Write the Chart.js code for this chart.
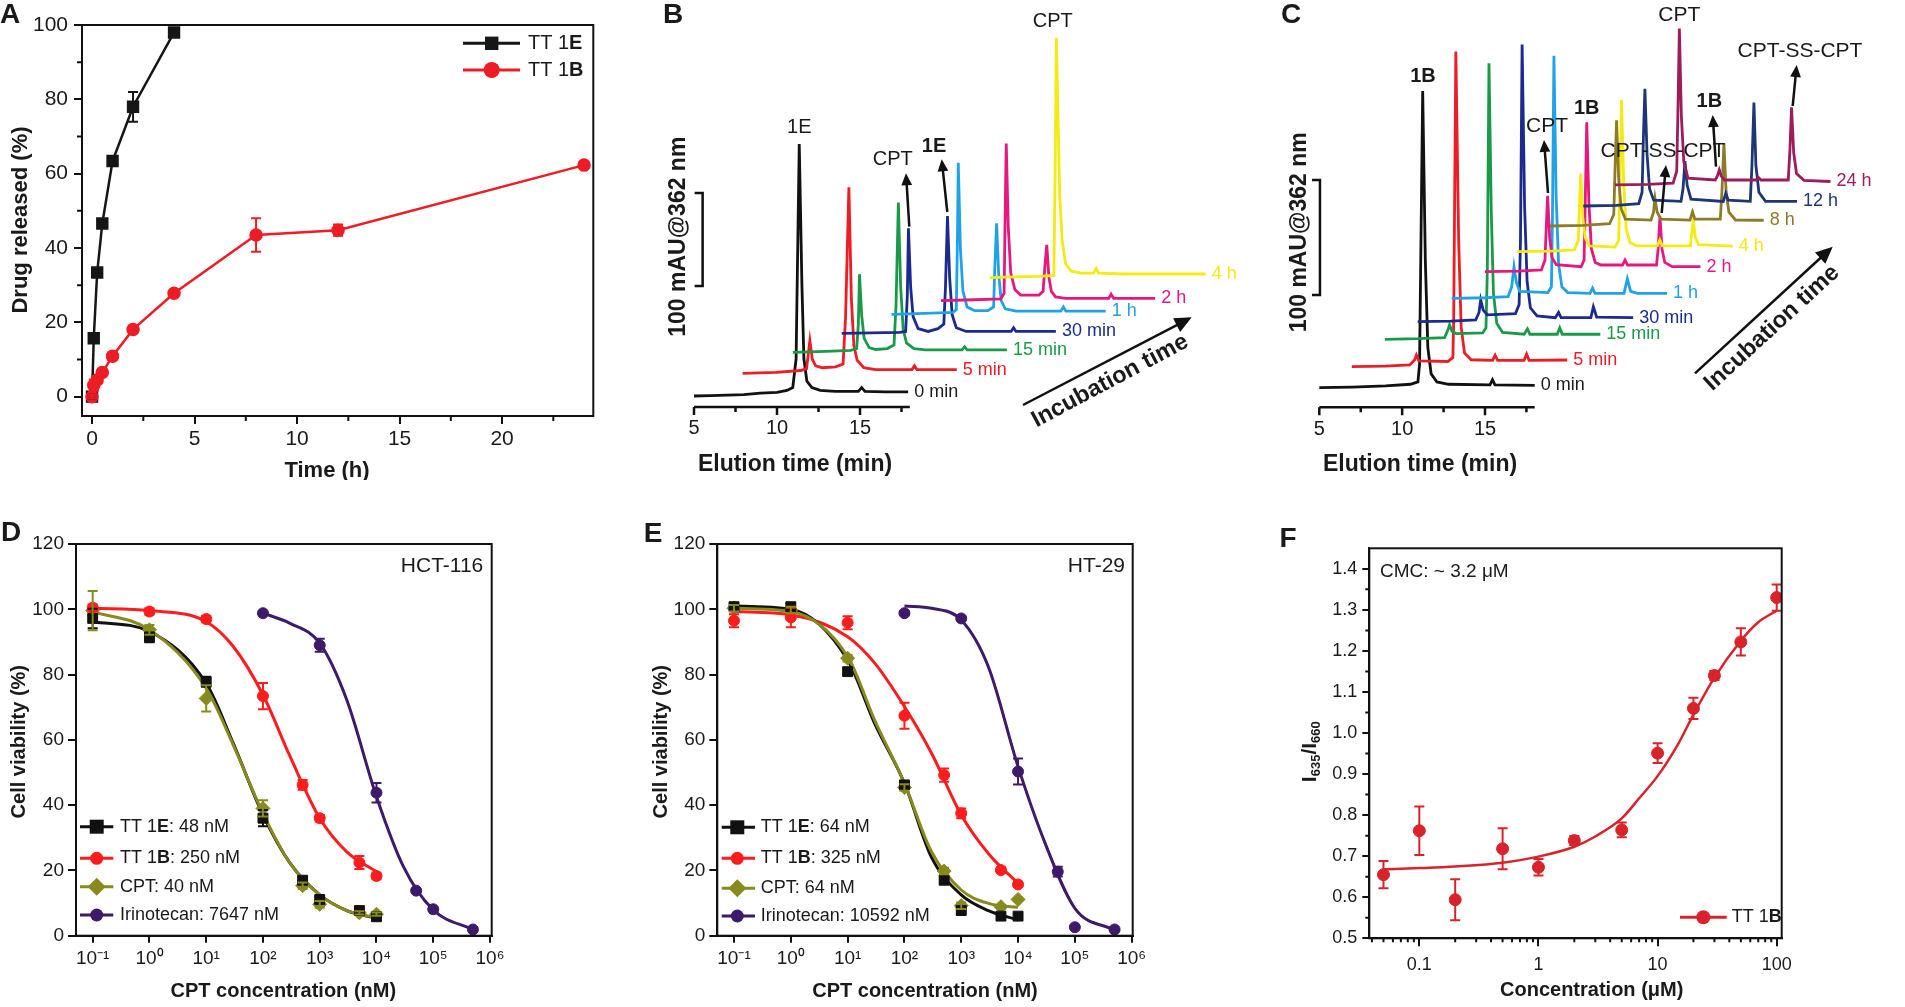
<!DOCTYPE html>
<html>
<head>
<meta charset="utf-8">
<title>Release, HPLC, cytotoxicity and CMC panels</title>
<script src="https://cdn.jsdelivr.net/npm/chart.js@4.4.1/dist/chart.umd.min.js"></script>
<style>
  html, body { margin: 0; padding: 0; background: #fff; }
  body { position: relative; width: 1905px; height: 1007px; overflow: hidden; }
  canvas { position: absolute; }
</style>
</head>
<body>
<canvas id="chartA" width="620" height="480" style="left:0px;top:0px"></canvas>
<canvas id="chartB" width="620" height="480" style="left:630px;top:0px"></canvas>
<canvas id="chartC" width="655" height="480" style="left:1250px;top:0px"></canvas>
<canvas id="chartD" width="630" height="517" style="left:0px;top:490px"></canvas>
<canvas id="chartE" width="640" height="517" style="left:630px;top:490px"></canvas>
<canvas id="chartF" width="635" height="517" style="left:1270px;top:490px"></canvas>
<script>
const FONT = "'Liberation Sans', Arial, Helvetica, sans-serif";
const INK = '#1a1a1a';
Chart.defaults.font.family = FONT;
Chart.defaults.color = INK;

// ---------- A: drug release ----------
const aTime1E = [0, 0.083, 0.25, 0.5, 1, 2, 4];
const aRel1E = [0, 15.7, 33.4, 46.6, 63.4, 78, 98];
const aErr1E = [0.5, 1, 1, 1, 1, 4, 1];
const aTime1B = [0, 0.083, 0.25, 0.5, 1, 2, 4, 8, 12, 24];
const aRel1B = [0, 3.1, 4.5, 6.5, 10.9, 18.1, 27.8, 43.5, 44.8, 62.3];
const aErr1B = [0.5, 1.5, 1, 1, 1, 1, 0.8, 4.5, 1.5, 0.8];
const aXTicks = [0, 5, 10, 15, 20];
const aYTicks = [0, 20, 40, 60, 80, 100];

// ---------- B: HPLC, TT 1E ----------
const bNames = ['0 min', '5 min', '15 min', '30 min', '1 h', '2 h', '4 h'];
const bShift = [0, 2.93, 5.95, 8.9, 11.9, 14.88, 17.83];  // min (stacking)
const bLift = [0, 24.4, 47, 67.4, 87.8, 102.5, 127.2];     // mAU (stacking)
const bTraces = [
  [[5,0],[6,0.5],[7,1],[8,1.5],[9,3],[10,4],[10.6,6],[10.95,9],[11.15,40],[11.34,271],[11.5,120],[11.62,40],[11.8,16],[12.1,9],[12.6,6],[13.5,5],[14.9,5],[15.1,9],[15.3,5],[16.5,4.5],[17.9,4.5]],
  [[5,0],[7,1],[8.5,3],[8.85,5],[8.95,20],[9.05,35],[9.2,15],[9.4,8],[9.8,6],[10.6,7],[11.05,10],[11.2,60],[11.4,200],[11.55,80],[11.7,30],[11.9,14],[12.3,6],[13,4],[15.2,4],[15.35,8],[15.5,4],[17.9,4]],
  [[5,0],[7,1],[8.5,2],[8.85,4],[8.95,30],[9.02,84],[9.15,40],[9.3,15],[9.6,5],[10,3],[10.7,4],[11.1,8],[11.22,50],[11.36,161],[11.5,70],[11.65,25],[11.85,10],[12.3,4],[13,2.5],[15.2,2.5],[15.35,6],[15.5,2.5],[17.9,2.5]],
  [[5,0],[8.5,1],[8.85,2],[8.95,40],[9.02,113],[9.15,50],[9.3,18],[9.6,5],[10.2,2],[10.8,5],[11.15,10],[11.25,50],[11.37,126],[11.5,60],[11.65,20],[11.9,6],[12.5,2],[15.2,2],[15.35,6],[15.5,2],[17.9,2]],
  [[5,0],[7,1],[8.7,2],[8.9,5],[8.97,80],[9.02,163],[9.15,70],[9.3,25],[9.55,8],[10,4],[10.8,4],[11.15,8],[11.22,50],[11.33,98],[11.45,45],[11.6,15],[11.85,6],[12.5,3.5],[15.2,3.5],[15.35,8],[15.5,3.5],[17.9,3.5]],
  [[5,0],[7,1],[8.6,2],[8.8,8],[8.87,100],[8.93,169],[9.05,80],[9.2,30],[9.45,12],[9.8,6],[10.9,6],[11.15,10],[11.25,35],[11.37,60],[11.5,25],[11.65,10],[11.9,4],[12.5,2.5],[15.1,2.5],[15.25,7],[15.4,2.5],[17.9,2.5]],
  [[5,0],[6.5,0.8],[8,1.5],[8.85,2.5],[8.93,120],[9.0,258],[9.1,170],[9.2,90],[9.35,40],[9.55,15],[9.9,7],[10.5,5],[11.25,5],[11.4,10],[11.55,5],[13,4],[18,4]]
];
const bColors = ['#111111', '#ee1c24', '#1a9a48', '#1b2a8f', '#1fa3e6', '#e6177f', '#f5ea14'];
const hplcTickVals = [5, 10, 15];
const hplcTickLabels = ['5', '10', '15'];
const hplcMinor = [7.5, 12.5, 17.5];

// ---------- C: HPLC, TT 1B ----------
const cNames = ['0 min', '5 min', '15 min', '30 min', '1 h', '2 h', '4 h', '8 h', '12 h', '24 h'];
const cShift = [0, 1.96, 3.96, 5.94, 7.99, 10.0, 11.95, 13.92, 15.93, 17.85];
const cLift = [0, 18.3, 42.1, 57.4, 77.7, 100.9, 118.3, 140.6, 158, 176.3];
const cTraces = [
  [[5,0],[7,0.5],[9,1.5],[10.5,3],[10.95,5],[11.05,20],[11.24,258],[11.4,110],[11.55,35],[11.75,12],[12.1,5],[12.8,3],[15.3,2.5],[15.45,7],[15.6,2.5],[18,2]],
  [[5,0],[7,0.5],[8.5,1.5],[8.8,6],[8.9,10],[9.05,5],[10.8,4.5],[11.1,8],[11.15,40],[11.28,274],[11.45,110],[11.6,35],[11.8,12],[12.2,6],[13.5,5.5],[13.65,10],[13.8,5.5],[15.4,5.5],[15.55,11],[15.7,5.5],[18,5.8]],
  [[5,0],[7,0.5],[8.6,1.5],[8.8,8],[8.9,12.5],[9.05,7],[9.3,5],[10.9,5.5],[11.1,10],[11.18,60],[11.28,240],[11.42,110],[11.55,40],[11.75,14],[12.1,6],[13.4,4.4],[13.6,9],[13.75,4.4],[15.4,4.4],[15.55,10],[15.7,4.4],[18,4.4]],
  [[5,0],[7,0.5],[8.5,1.5],[8.7,8],[8.8,19],[8.95,10],[9.2,6],[10.9,7],[11.12,15],[11.2,70],[11.3,241],[11.45,100],[11.6,35],[11.8,12],[12.2,5],[13.3,3.5],[13.5,8],[13.65,3.5],[15.45,3.5],[15.6,13],[15.8,4],[18,3.5]],
  [[5,0],[7,0.5],[8.4,1.5],[8.62,10],[8.76,27.5],[8.9,14],[9.1,6],[10.8,5],[11.02,10],[11.08,70],[11.17,211],[11.3,90],[11.45,30],[11.65,10],[12,5],[13.35,4.3],[13.5,9],[13.65,4.3],[15.4,4.3],[15.6,17],[15.8,6],[16.2,4.3],[18,4.3]],
  [[5,0],[7,0.5],[8.4,1.5],[8.62,10],[8.7,40],[8.78,66],[8.9,30],[9.05,12],[9.3,6],[10.8,4.3],[10.98,10],[11.05,60],[11.14,130],[11.27,60],[11.42,20],[11.65,8],[12,5.8],[13.3,5.8],[13.45,10],[13.6,5.8],[15.35,5.8],[15.45,20],[15.56,48],[15.68,20],[15.85,8],[16.3,4.3],[18,4.3]],
  [[5,0],[7,0.5],[8.45,1.5],[8.68,10],[8.75,40],[8.83,68],[8.95,30],[9.1,12],[9.35,5],[10.9,4],[11.12,10],[11.19,60],[11.29,132],[11.42,60],[11.57,20],[11.8,8],[12.2,5],[13.45,5],[13.6,10.2],[13.75,5],[15.45,5],[15.52,15],[15.62,27.6],[15.75,12],[15.95,6],[18,4.8]],
  [[5,0],[7,0.5],[8.6,2],[8.85,10],[8.93,50],[9.02,92],[9.15,40],[9.3,15],[9.55,6],[11.1,5.2],[11.25,12],[11.34,24],[11.47,12],[11.7,6],[13.45,5.2],[13.6,12.4],[13.75,6],[15.28,6],[15.38,30],[15.5,72],[15.63,30],[15.8,12],[16.2,5.2],[17.9,5]],
  [[5,0],[7,0.5],[8.35,2],[8.55,12],[8.63,60],[8.72,102],[8.85,45],[9.0,15],[9.25,5],[10.9,4],[11.02,15],[11.14,39],[11.27,18],[11.5,6],[13.45,4],[13.6,11],[13.75,5],[15.08,4],[15.18,35],[15.3,90],[15.42,35],[15.6,12],[16,4],[17.9,4]],
  [[5,0],[7,0.5],[8.5,1.5],[8.72,12],[8.8,70],[8.88,136],[9.0,60],[9.15,20],[9.4,6],[11.05,4.3],[11.18,8],[11.29,13],[11.4,8],[11.6,4.3],[13.5,4.3],[13.65,6.5],[13.8,4.3],[15.45,4.3],[15.55,30],[15.65,67.5],[15.78,28],[15.95,10],[16.4,4],[18,3]]
];
const cColors = ['#111111', '#ee1c24', '#1a9a48', '#1b2a8f', '#1fa3e6', '#e6177f', '#f5ea14', '#8c7b29', '#1c3677', '#9c1c5c'];

// ---------- D / E: cell viability ----------
const vConc = [0.1, 1, 10, 100, 500, 1000, 5000, 10000];
const vIrinoConc = [100, 1000, 10000, 50000, 100000, 500000];
const fitConc = [0.1, 1, 10, 30, 100, 300, 1000, 3000, 10000];
const fitIrinoConc = [100, 300, 1000, 3000, 10000, 30000, 100000, 500000];
const logTicks = [0.1, 1, 10, 100, 1000, 10000, 100000, 1000000];
const logLabels = ['10\u207B\u00B9', '10\u2070', '10\u00B9', '10\u00B2', '10\u00B3', '10\u2074', '10\u2075', '10\u2076'];
const viaTicks = [0, 20, 40, 60, 80, 100, 120];
const viaLabels = ['0', '20', '40', '60', '80', '100', '120'];

const d1E = [97.2, 91.4, 77.8, 36, 17, 11.1, 7.7, 5.8];
const d1EErr = [3, 1.5, 1.5, 2.5, 1, 1, 1, 0.8];
const d1B = [100.5, 99.3, 97, 73.4, 46.2, 36, 22.4, 18.3];
const d1BErr = [1, 1, 1, 4, 1.5, 1, 2, 1];
const dCPT = [99.6, 93.7, 72.7, 39, 15.3, 9.6, 7, 6.6];
const dCPTErr = [6, 1.5, 4, 2.5, 1, 1, 0.5, 0.5];
const dIrino = [98.8, 89, 43.8, 13.8, 8.1, 1.9];
const dIrinoErr = [0.5, 2, 3, 0.5, 0.5, 0.3];
const dFit1E = [96.2, 93.2, 77.3, 58.9, 37, 22.2, 12.5, 7.7, 5.3];
const dFit1B = [100.3, 99.6, 96.2, 88.6, 73.8, 54.9, 36, 25.7, 19.6];
const dFitCPT = [99.3, 93.7, 75.8, 58.4, 37.5, 22.2, 12.5, 7.7, 5.5];
const dFitIrino = [98.8, 95.7, 89.6, 72.2, 42.6, 21.1, 7.9, 1.9];

const e1E = [100.8, 100.8, 80.9, 46.2, 17, 7.7, 6, 6];
const e1EErr = [1, 1, 1, 1, 1, 1, 0.5, 0.5];
const e1B = [96.5, 97.5, 95.9, 67.4, 49.2, 37.5, 20.1, 15.7];
const e1BErr = [2, 3, 2, 4, 2, 1.5, 0.8, 0.8];
const eCPT = [100.3, 99.8, 85, 45.4, 19.8, 9.2, 8.9, 11.1];
const eCPTErr = [1, 1, 1, 1, 1, 1, 0.5, 0.5];
const eIrino = [98.8, 97.2, 50.3, 19.6, 2.6, 1.9];
const eIrinoErr = [0.5, 0.5, 4, 1.5, 0.3, 0.3];
const eFit1E = [101, 100, 84.5, 65, 46.7, 24, 12.5, 7.7, 4.8];
const eFit1B = [99.3, 98.3, 91.6, 83.5, 70.2, 55.9, 37, 25.2, 16];
const eFitCPT = [100.3, 99.3, 85.5, 66, 46.7, 25.7, 14, 9.9, 8.7];
const eFitIrino = [101, 100.3, 96.7, 82.4, 51.8, 28.3, 8.4, 1.7];

// ---------- F: CMC ----------
const fConc = [0.05, 0.1, 0.2, 0.5, 1, 2, 5, 10, 20, 30, 50, 100];
const fRatio = [0.655, 0.762, 0.594, 0.718, 0.673, 0.738, 0.764, 0.951, 1.06, 1.14, 1.222, 1.33];
const fErr = [0.033, 0.059, 0.05, 0.05, 0.02, 0.011, 0.018, 0.024, 0.026, 0.011, 0.033, 0.032];
const fFitConc = [0.05, 0.1, 0.2, 0.5, 1, 2, 3, 5, 7, 10, 15, 20, 30, 50, 70, 100];
const fFitVal = [0.668, 0.671, 0.675, 0.684, 0.699, 0.723, 0.748, 0.792, 0.841, 0.895, 0.975, 1.045, 1.135, 1.225, 1.27, 1.298];
const fXTicks = [0.1, 1, 10, 100];
const fXLabels = ['0.1', '1', '10', '100'];
const fXMinor = [0.04, 0.05, 0.06, 0.07, 0.08, 0.09, 0.2, 0.3, 0.4, 0.5, 0.6, 0.7, 0.8, 0.9,
                 2, 3, 4, 5, 6, 7, 8, 9, 20, 30, 40, 50, 60, 70, 80, 90];
const fYTicks = [0.5, 0.6, 0.7, 0.8, 0.9, 1.0, 1.1, 1.2, 1.3, 1.4];
const fYLabels = ['0.5', '0.6', '0.7', '0.8', '0.9', '1.0', '1.1', '1.2', '1.3', '1.4'];
const fYMinor = [0.55, 0.65, 0.75, 0.85, 0.95, 1.05, 1.15, 1.25, 1.35];

// ---------- helpers ----------
const pts = (xs, ys) => xs.map((x, i) => ({ x: x, y: ys[i] }));

function rich(ctx, parts, x, y, o) {
  o = o || {};
  const size = o.size || 18;
  const fontOf = p => (p[1] ? 'bold ' : '') + (p[2] ? Math.round(size * 0.62) : size) + 'px ' + FONT;
  ctx.save();
  ctx.translate(x, y);
  if (o.rot) ctx.rotate(o.rot * Math.PI / 180);
  ctx.textBaseline = 'middle';
  ctx.textAlign = 'left';
  ctx.fillStyle = o.color || INK;
  let w = 0;
  parts.forEach(p => { ctx.font = fontOf(p); w += ctx.measureText(p[0]).width; });
  let cx = o.align === 'left' ? 0 : o.align === 'right' ? -w : -w / 2;
  parts.forEach(p => {
    ctx.font = fontOf(p);
    ctx.fillText(p[0], cx, p[2] ? size * 0.32 : 0);
    cx += ctx.measureText(p[0]).width;
  });
  ctx.restore();
}

// simple text item, page coordinates
function tx(s, x, y, size, o) {
  o = o || {};
  return Object.assign({ p: [[s, !!o.bold]], x: x, y: y, size: size }, o);
}

function marker(ctx, kind, x, y, r, color) {
  ctx.save();
  ctx.fillStyle = color;
  ctx.beginPath();
  if (kind === 'rect') ctx.rect(x - r, y - r, 2 * r, 2 * r);
  else if (kind === 'diamond') { ctx.moveTo(x, y - r); ctx.lineTo(x + r, y); ctx.lineTo(x, y + r); ctx.lineTo(x - r, y); ctx.closePath(); }
  else ctx.arc(x, y, r, 0, Math.PI * 2);
  ctx.fill();
  ctx.restore();
}

function drawArrow(ctx, x1, y1, x2, y2, head) {
  const ang = Math.atan2(y2 - y1, x2 - x1);
  const c = Math.cos(ang), s = Math.sin(ang);
  ctx.save();
  ctx.strokeStyle = '#111'; ctx.fillStyle = '#111'; ctx.lineWidth = 2.5;
  ctx.beginPath();
  ctx.moveTo(x1, y1);
  ctx.lineTo(x2 - c * head * 0.7, y2 - s * head * 0.7);
  ctx.stroke();
  ctx.beginPath();
  ctx.moveTo(x2, y2);
  ctx.lineTo(x2 - c * head - s * head * 0.45, y2 - s * head + c * head * 0.45);
  ctx.lineTo(x2 - c * head + s * head * 0.45, y2 - s * head - c * head * 0.45);
  ctx.closePath();
  ctx.fill();
  ctx.restore();
}

function drawTexts(ctx, list, ox, oy) {
  (list || []).forEach(t => rich(ctx, t.p, t.x - ox, t.y - oy, t));
}

function scaleOpts(o) {
  return {
    type: o.type,
    min: o.min,
    max: o.max,
    afterFit: s => { if (s.isHorizontal()) s.height = o.size; else s.width = o.size; },
    afterBuildTicks: s => { s.ticks = o.at.map(v => ({ value: v })); },
    ticks: {
      autoSkip: false, maxRotation: 0, minRotation: 0, padding: o.pad, color: INK,
      font: { size: o.font, family: FONT },
      callback: (v, i) => o.labels[i]
    },
    grid: { drawOnChartArea: false, drawTicks: true, tickLength: o.len, color: '#111', lineWidth: 2 },
    border: { display: true, color: '#111', width: 2 }
  };
}

function plotOpts(pad, x, y) {
  return {
    responsive: false, animation: false, devicePixelRatio: 1, events: [],
    layout: { padding: pad },
    plugins: { legend: { display: false }, tooltip: { enabled: false } },
    scales: { x: scaleOpts(x), y: scaleOpts(y) }
  };
}

// box, minor ticks, error bars, legend and labels for the xy panels
function decor(cfg) {
  const ox = cfg.off[0], oy = cfg.off[1];
  return {
    id: 'decor',
    afterDatasetsDraw(chart) {
      const ctx = chart.ctx, ys = chart.scales.y;
      chart.data.datasets.forEach((ds, i) => {
        if (!ds.errs) return;
        const meta = chart.getDatasetMeta(i);
        ctx.save();
        ctx.strokeStyle = ds.borderColor;
        ctx.lineWidth = 2;
        ctx.beginPath();
        meta.data.forEach((el, j) => {
          const e = ds.errs[j];
          if (!e) return;
          const v = ds.data[j].y;
          const t = ys.getPixelForValue(v + e), b = ys.getPixelForValue(v - e);
          ctx.moveTo(el.x, t); ctx.lineTo(el.x, b);
          ctx.moveTo(el.x - 5, t); ctx.lineTo(el.x + 5, t);
          ctx.moveTo(el.x - 5, b); ctx.lineTo(el.x + 5, b);
        });
        ctx.stroke();
        ctx.restore();
      });
    },
    afterDraw(chart) {
      const ctx = chart.ctx, a = chart.chartArea, xs = chart.scales.x, ys = chart.scales.y;
      ctx.save();
      ctx.strokeStyle = '#111';
      ctx.lineWidth = 2;
      ctx.strokeRect(a.left, a.top, a.right - a.left, a.bottom - a.top);
      ctx.beginPath();
      (cfg.xMinor || []).forEach(v => {
        const p = xs.getPixelForValue(v);
        ctx.moveTo(p, a.bottom); ctx.lineTo(p, a.bottom + cfg.minorLen);
      });
      (cfg.yMinor || []).forEach(v => {
        const p = ys.getPixelForValue(v);
        ctx.moveTo(a.left, p); ctx.lineTo(a.left - cfg.minorLen, p);
      });
      ctx.stroke();
      ctx.restore();
      if (cfg.legend) {
        const L = cfg.legend;
        L.rows.forEach(r => {
          const y = r.y - oy;
          ctx.save();
          ctx.strokeStyle = r.color;
          ctx.lineWidth = 3;
          ctx.beginPath(); ctx.moveTo(L.x1 - ox, y); ctx.lineTo(L.x2 - ox, y); ctx.stroke();
          ctx.restore();
          marker(ctx, r.m, L.mx - ox, y, r.r, r.color);
          rich(ctx, r.p, L.tx - ox, y, { size: L.size, align: 'left' });
        });
      }
      drawTexts(ctx, cfg.texts, ox, oy);
    }
  };
}

// axis, scale bar, trace names and annotations for the chromatograms
function chromDecor(cfg) {
  const ox = cfg.off[0], oy = cfg.off[1];
  return {
    id: 'chrom',
    afterDraw(chart) {
      const ctx = chart.ctx, xs = chart.scales.x, ys = chart.scales.y;
      chart.data.datasets.forEach((ds, i) => {
        const meta = chart.getDatasetMeta(i);
        const last = meta.data[meta.data.length - 1];
        rich(ctx, [[cfg.names[i]]], last.x + 6, last.y, { size: 18, color: ds.borderColor === '#111111' ? INK : ds.borderColor, align: 'left' });
      });
      const ay = ys.getPixelForValue(cfg.axisAt);
      ctx.save();
      ctx.strokeStyle = '#111';
      ctx.lineWidth = 2.5;
      ctx.beginPath();
      ctx.moveTo(xs.getPixelForValue(cfg.axisFrom), ay);
      ctx.lineTo(xs.getPixelForValue(cfg.axisTo), ay);
      hplcTickVals.forEach(v => { const p = xs.getPixelForValue(v); ctx.moveTo(p, ay); ctx.lineTo(p, ay + 8); });
      hplcMinor.forEach(v => { const p = xs.getPixelForValue(v); ctx.moveTo(p, ay); ctx.lineTo(p, ay + 5); });
      const bx = xs.getPixelForValue(cfg.barX);
      const bt = ys.getPixelForValue(cfg.barFrom + 100), bb = ys.getPixelForValue(cfg.barFrom);
      ctx.moveTo(bx - 8, bt); ctx.lineTo(bx, bt); ctx.lineTo(bx, bb); ctx.lineTo(bx - 8, bb);
      ctx.stroke();
      ctx.restore();
      hplcTickVals.forEach((v, i) => rich(ctx, [[hplcTickLabels[i]]], xs.getPixelForValue(v), ay + 22, { size: 20 }));
      cfg.arrows.forEach(a => drawArrow(ctx, a[0] - ox, a[1] - oy, a[2] - ox, a[3] - oy, a[4] || 12));
      drawTexts(ctx, cfg.texts, ox, oy);
    }
  };
}

// value range that puts value v0 at pixel px0 with ppu pixels per unit
function hRange(v0, px0, ppu, size) { return { min: v0 - px0 / ppu, max: v0 + (size - px0) / ppu }; }
function vRange(v0, px0, ppu, size) { return { min: v0 - (size - px0) / ppu, max: v0 + px0 / ppu }; }

function hplcChart(id, traces, names, shift, lift, colors, xr, yr, deco) {
  return new Chart(document.getElementById(id), {
    type: 'line',
    data: {
      datasets: traces.map((tr, i) => ({
        label: names[i],
        data: tr.map(p => ({ x: p[0] + shift[i], y: p[1] + lift[i] })),
        borderColor: colors[i],
        borderWidth: 2.8,
        pointRadius: 0,
        tension: 0,
        fill: false,
        order: traces.length - i
      }))
    },
    options: {
      responsive: false, animation: false, devicePixelRatio: 1, events: [],
      layout: { padding: 0 },
      plugins: { legend: { display: false }, tooltip: { enabled: false } },
      scales: {
        x: { type: 'linear', display: false, min: xr.min, max: xr.max },
        y: { type: 'linear', display: false, min: yr.min, max: yr.max }
      }
    },
    plugins: [chromDecor(deco)]
  });
}

// ---------- A ----------
new Chart(document.getElementById('chartA'), {
  type: 'line',
  data: {
    datasets: [
      { label: 'TT 1E', data: pts(aTime1E, aRel1E), errs: aErr1E, borderColor: '#161616', backgroundColor: '#161616',
        borderWidth: 2.5, pointStyle: 'rect', pointRadius: 7, tension: 0, order: 1 },
      { label: 'TT 1B', data: pts(aTime1B, aRel1B), errs: aErr1B, borderColor: '#ee1c25', backgroundColor: '#ee1c25',
        borderWidth: 2.5, pointStyle: 'circle', pointRadius: 5.5, tension: 0, order: 0 }
    ]
  },
  options: plotOpts({ top: 25, right: 26.7, left: 0, bottom: 0 },
    { type: 'linear', min: -0.49, max: 24.45, at: aXTicks, labels: aXTicks.map(String), size: 64, font: 21, len: 8, pad: 3 },
    { type: 'linear', min: -5.2, max: 100, at: aYTicks, labels: aYTicks.map(String), size: 82, font: 21, len: 8, pad: 6 }),
  plugins: [decor({
    off: [0, 0], minorLen: 5,
    xMinor: [2.5, 7.5, 12.5, 17.5, 22.5], yMinor: [10, 30, 50, 70, 90],
    legend: { x1: 463, x2: 520, mx: 491.7, tx: 528, size: 20, rows: [
      { y: 43.3, color: '#161616', m: 'rect', r: 6.7, p: [['TT 1'], ['E', true]] },
      { y: 70, color: '#ee1c25', m: 'circle', r: 8, p: [['TT 1'], ['B', true]] }
    ] },
    texts: [
      tx('A', 10, 15, 28, { bold: true }),
      tx('Drug released (%)', 21, 220, 22, { bold: true, rot: -90 }),
      tx('Time (h)', 327, 471, 22, { bold: true })
    ]
  })]
});

// ---------- B ----------
hplcChart('chartB', bTraces, bNames, bShift, bLift, bColors,
  hRange(5, 64, 16.6, 620), vRange(0, 396, 0.93, 480), {
    off: [630, 0], names: bNames, axisAt: -11.8, axisFrom: 5, axisTo: 18, barX: 5.52, barFrom: 118.3,
    arrows: [[909.3, 226.7, 906, 173.3], [947.3, 212, 941.7, 159.3], [1023, 405, 1191.7, 317.3, 17]],
    texts: [
      tx('B', 673, 15.5, 28, { bold: true }),
      tx('1E', 799.3, 127.3, 20),
      tx('CPT', 892.7, 159.3, 20),
      tx('1E', 934, 146, 20, { bold: true }),
      tx('CPT', 1052.7, 21.7, 20),
      tx('100 mAU@362 nm', 678.3, 236.7, 23, { bold: true, rot: -90 }),
      tx('Elution time (min)', 795, 465, 23, { bold: true }),
      tx('Incubation time', 1110, 381, 23.5, { bold: true, rot: -28 })
    ]
  });

// ---------- C ----------
hplcChart('chartC', cTraces, cNames, cShift, cLift, cColors,
  hRange(5, 69.3, 16.57, 655), vRange(0, 387.7, 1.15, 480), {
    off: [1250, 0], names: cNames, axisAt: -17, axisFrom: 5, axisTo: 18, barX: 5.04, barFrom: 80.6,
    arrows: [[1548, 193, 1544, 140], [1661.7, 213, 1666, 165], [1716, 166.7, 1712.7, 115],
             [1792.7, 106, 1796.7, 65], [1695, 373.3, 1832.7, 246.7, 17]],
    texts: [
      tx('C', 1291, 15, 28, { bold: true }),
      tx('1B', 1423, 76, 20, { bold: true }),
      tx('CPT', 1547, 126.7, 21),
      tx('1B', 1586.7, 108.3, 20, { bold: true }),
      tx('CPT-SS-CPT', 1663, 151.7, 21),
      tx('CPT', 1679.3, 15, 21),
      tx('1B', 1709.3, 101.7, 20, { bold: true }),
      tx('CPT-SS-CPT', 1800, 51.7, 21),
      tx('100 mAU@362 nm', 1300, 232.3, 23, { bold: true, rot: -90 }),
      tx('Elution time (min)', 1420, 465, 23, { bold: true }),
      tx('Incubation time', 1772, 328, 23.5, { bold: true, rot: -42.5 })
    ]
  });

// ---------- D / E ----------
const vColors = { e: '#111111', b: '#ff1c1c', cpt: '#878a1c', iri: '#3e1a6b' };

function viabilityChart(id, off, area, sets, deco) {
  const W = document.getElementById(id).width, H = document.getElementById(id).height;
  const lineSet = (conc, vals, color, order) => ({
    data: pts(conc, vals), borderColor: color, borderWidth: 3, pointRadius: 0,
    cubicInterpolationMode: 'monotone', fill: false, order: order
  });
  const dotSet = (conc, vals, errs, color, style, r) => ({
    data: pts(conc, vals), errs: errs, showLine: false, borderColor: color, backgroundColor: color,
    pointBackgroundColor: color, pointBorderColor: color, pointStyle: style, pointRadius: r, order: -1
  });
  return new Chart(document.getElementById(id), {
    type: 'line',
    data: {
      datasets: [
        lineSet(fitIrinoConc, sets.fitIrino, vColors.iri, 4),
        lineSet(fitConc, sets.fit1B, vColors.b, 3),
        lineSet(fitConc, sets.fit1E, vColors.e, 2),
        lineSet(fitConc, sets.fitCPT, vColors.cpt, 1),
        dotSet(vIrinoConc, sets.iri, sets.iriErr, vColors.iri, 'circle', 5.5),
        dotSet(vConc, sets.b, sets.bErr, vColors.b, 'circle', 5.5),
        dotSet(vConc, sets.e, sets.eErr, vColors.e, 'rect', 7),
        dotSet(vConc, sets.cpt, sets.cptErr, vColors.cpt, 'rectRot', 7)
      ]
    },
    options: plotOpts({ top: area.top, right: W - area.right, left: 0, bottom: 0 },
      { type: 'logarithmic', min: Math.pow(10, area.logMin), max: Math.pow(10, area.logMax), at: logTicks, labels: logLabels,
        size: H - area.bottom, font: 19, len: 7, pad: 5 },
      { type: 'linear', min: 0, max: 120, at: viaTicks, labels: viaLabels, size: area.left, font: 19, len: 8, pad: 4 }),
    plugins: [decor(Object.assign({ off: off, minorLen: 0 }, deco))]
  });
}

function viaLegend(x1, x2, mx, txx, ys, n1E, n1B, nCPT, nIri) {
  return { x1: x1, x2: x2, mx: mx, tx: txx, size: 18, rows: [
    { y: ys[0], color: vColors.e, m: 'rect', r: 7, p: [['TT 1'], ['E', true], [': ' + n1E]] },
    { y: ys[1], color: vColors.b, m: 'circle', r: 6.5, p: [['TT 1'], ['B', true], [': ' + n1B]] },
    { y: ys[2], color: vColors.cpt, m: 'diamond', r: 9, p: [['CPT: ' + nCPT]] },
    { y: ys[3], color: vColors.iri, m: 'circle', r: 6.5, p: [['Irinotecan: ' + nIri]] }
  ] };
}

viabilityChart('chartD', [0, 490], { left: 76, right: 491.7, top: 54, bottom: 445.7, logMin: -1.294, logMax: 6.03 }, {
  e: d1E, eErr: d1EErr, b: d1B, bErr: d1BErr, cpt: dCPT, cptErr: dCPTErr, iri: dIrino, iriErr: dIrinoErr,
  fit1E: dFit1E, fit1B: dFit1B, fitCPT: dFitCPT, fitIrino: dFitIrino
}, {
  legend: viaLegend(80, 113.3, 96.7, 120, [826.7, 858.3, 886.7, 915], '48 nM', '250 nM', '40 nM', '7647 nM'),
  texts: [
    tx('D', 11, 533, 28, { bold: true }),
    tx('HCT-116', 483.3, 566, 21, { align: 'right' }),
    tx('Cell viability (%)', 19, 741.7, 20, { bold: true, rot: -90 }),
    tx('CPT concentration (nM)', 283.3, 991.7, 20, { bold: true })
  ]
});

viabilityChart('chartE', [630, 490], { left: 87.3, right: 502.7, top: 54, bottom: 445.7, logMin: -1.294, logMax: 6.018 }, {
  e: e1E, eErr: e1EErr, b: e1B, bErr: e1BErr, cpt: eCPT, cptErr: eCPTErr, iri: eIrino, iriErr: eIrinoErr,
  fit1E: eFit1E, fit1B: eFit1B, fitCPT: eFitCPT, fitIrino: eFitIrino
}, {
  legend: viaLegend(721.7, 755, 737.3, 760.7, [827.3, 858.3, 888.3, 916], '64 nM', '325 nM', '64 nM', '10592 nM'),
  texts: [
    tx('E', 653, 534, 28, { bold: true }),
    tx('HT-29', 1125, 566, 21, { align: 'right' }),
    tx('Cell viability (%)', 661.7, 741.7, 20, { bold: true, rot: -90 }),
    tx('CPT concentration (nM)', 925, 991.7, 20, { bold: true })
  ]
});

// ---------- F ----------
const fRed = '#d9232a';
new Chart(document.getElementById('chartF'), {
  type: 'line',
  data: {
    datasets: [
      { data: pts(fFitConc, fFitVal), borderColor: fRed, borderWidth: 2.5, pointRadius: 0,
        cubicInterpolationMode: 'monotone', fill: false, order: 1 },
      { data: pts(fConc, fRatio), errs: fErr, showLine: false, borderColor: fRed, backgroundColor: fRed,
        pointBackgroundColor: fRed, pointBorderColor: fRed, pointStyle: 'circle', pointRadius: 6, order: 0 }
    ]
  },
  options: plotOpts({ top: 58.3, right: 635 - 511.7, left: 0, bottom: 0 },
    { type: 'logarithmic', min: Math.pow(10, -1.42), max: Math.pow(10, 2.042), at: fXTicks, labels: fXLabels,
      size: 517 - 448.3, font: 18, len: 8, pad: 8 },
    { type: 'linear', min: 0.5, max: 1.45, at: fYTicks, labels: fYLabels, size: 99.3, font: 18, len: 7, pad: 5 }),
  plugins: [decor({
    off: [1270, 490], minorLen: 4, xMinor: fXMinor, yMinor: fYMinor,
    legend: { x1: 1680, x2: 1726.7, mx: 1703.3, tx: 1731.7, size: 18, rows: [
      { y: 917.3, color: fRed, m: 'circle', r: 7, p: [['TT 1'], ['B', true]] }
    ] },
    texts: [
      tx('F', 1288, 539, 28, { bold: true }),
      tx('CMC: ~ 3.2 \u03BCM', 1380, 571.7, 19, { align: 'left' }),
      { p: [['I', true], ['635', true, true], ['/I', true], ['660', true, true]], x: 1310, y: 751.7, size: 21, rot: -90 },
      tx('Concentration (\u03BCM)', 1591.7, 990, 20, { bold: true })
    ]
  })]
});
</script>
</body>
</html>
